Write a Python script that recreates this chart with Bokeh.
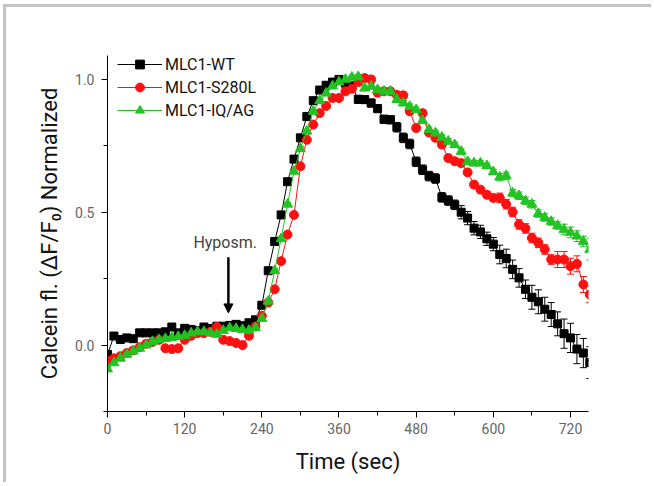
from bokeh.plotting import figure
from bokeh.models import (ColumnDataSource, FixedTicker, Whisker, TeeHead, Arrow,
                          NormalHead, Label, Range1d, NumeralTickFormatter)
from bokeh.embed import file_html
from bokeh.resources import INLINE

# ---------------- data ----------------
time_s = [0, 10, 20, 30, 40, 50, 60, 70, 80, 90, 100, 110, 120, 130, 140, 150, 160, 170, 180, 190,
          200, 210, 220, 230, 240, 250, 260, 270, 280, 290, 300, 310, 320, 330, 340, 350, 360, 370, 380, 390,
          400, 410, 420, 430, 440, 450, 460, 470, 480, 490, 500, 510, 520, 530, 540, 550, 560, 570, 580, 590,
          600, 610, 620, 630, 640, 650, 660, 670, 680, 690, 700, 710, 720, 730, 740, 750]

wt = [-0.035, 0.034, 0.021, 0.027, 0.024, 0.046, 0.046, 0.046, 0.046, 0.050,
      0.068, 0.046, 0.063, 0.059, 0.055, 0.068, 0.062, 0.071, 0.071, 0.074,
      0.078, 0.073, 0.084, 0.095, 0.150, 0.280, 0.390, 0.490, 0.615, 0.700,
      0.780, 0.860, 0.920, 0.960, 0.978, 0.990, 1.000, 0.986, 0.975, 0.925,
      0.924, 0.911, 0.890, 0.850, 0.848, 0.820, 0.780, 0.757, 0.690, 0.660,
      0.636, 0.627, 0.556, 0.544, 0.528, 0.500, 0.478, 0.440, 0.426, 0.400,
      0.380, 0.341, 0.326, 0.285, 0.253, 0.210, 0.180, 0.163, 0.135, 0.115,
      0.080, 0.043, 0.027, -0.015, -0.030, -0.066]
wt_err = [0.008, 0.008, 0.008, 0.008, 0.008, 0.008, 0.008, 0.008, 0.008, 0.008,
          0.008, 0.008, 0.008, 0.008, 0.008, 0.008, 0.008, 0.008, 0.008, 0.008,
          0.008, 0.008, 0.008, 0.008, 0.010, 0.010, 0.010, 0.010, 0.010, 0.010,
          0.010, 0.010, 0.010, 0.010, 0.010, 0.010, 0.010, 0.010, 0.015, 0.015,
          0.015, 0.015, 0.015, 0.015, 0.015, 0.018, 0.018, 0.018, 0.018, 0.018,
          0.018, 0.018, 0.018, 0.018, 0.018, 0.025, 0.025, 0.025, 0.025, 0.025,
          0.025, 0.035, 0.035, 0.035, 0.035, 0.035, 0.045, 0.045, 0.045, 0.045,
          0.045, 0.055, 0.055, 0.055, 0.055, 0.060]

s280l = [-0.060, -0.050, -0.042, -0.030, -0.020, -0.008, 0.005, 0.012, 0.020, -0.012,
         -0.015, -0.012, 0.020, 0.035, 0.045, 0.045, 0.050, 0.068, 0.020, 0.015,
         0.008, 0.000, 0.035, 0.070, 0.110, 0.160, 0.210, 0.316, 0.416, 0.490,
         0.673, 0.773, 0.830, 0.873, 0.900, 0.930, 0.930, 0.955, 0.965, 0.990,
         1.005, 1.000, 0.950, 0.955, 0.955, 0.942, 0.940, 0.880, 0.817, 0.873,
         0.800, 0.780, 0.755, 0.704, 0.692, 0.685, 0.650, 0.604, 0.585, 0.566,
         0.554, 0.554, 0.530, 0.501, 0.454, 0.439, 0.403, 0.385, 0.360, 0.322,
         0.322, 0.322, 0.297, 0.306, 0.228, 0.190]
s280l_err = [0.006, 0.006, 0.006, 0.006, 0.006, 0.006, 0.006, 0.006, 0.006, 0.006,
             0.006, 0.006, 0.006, 0.006, 0.006, 0.006, 0.006, 0.006, 0.006, 0.006,
             0.006, 0.006, 0.006, 0.006, 0.008, 0.008, 0.008, 0.008, 0.008, 0.008,
             0.008, 0.008, 0.008, 0.008, 0.008, 0.008, 0.008, 0.008, 0.012, 0.012,
             0.012, 0.012, 0.012, 0.012, 0.012, 0.012, 0.012, 0.012, 0.012, 0.012,
             0.012, 0.012, 0.012, 0.012, 0.012, 0.012, 0.012, 0.012, 0.012, 0.012,
             0.012, 0.018, 0.018, 0.018, 0.018, 0.018, 0.018, 0.018, 0.018, 0.018,
             0.030, 0.030, 0.030, 0.030, 0.030, 0.030]

iqag = [-0.090, -0.067, -0.050, -0.035, -0.023, -0.012, 0.000, 0.013, 0.020, 0.024,
        0.028, 0.032, 0.036, 0.045, 0.050, 0.050, 0.046, 0.040, 0.055, 0.065,
        0.062, 0.058, 0.055, 0.065, 0.100, 0.165, 0.280, 0.400, 0.530, 0.654,
        0.739, 0.805, 0.880, 0.920, 0.948, 0.975, 0.990, 1.000, 1.008, 1.010,
        0.967, 0.974, 0.961, 0.955, 0.955, 0.924, 0.911, 0.898, 0.886, 0.845,
        0.811, 0.798, 0.782, 0.767, 0.754, 0.729, 0.690, 0.685, 0.685, 0.675,
        0.652, 0.632, 0.637, 0.572, 0.562, 0.543, 0.530, 0.495, 0.480, 0.465,
        0.450, 0.435, 0.424, 0.410, 0.390, 0.360]
iqag_err = [0.006, 0.006, 0.006, 0.006, 0.006, 0.006, 0.006, 0.006, 0.006, 0.006,
            0.006, 0.006, 0.006, 0.006, 0.006, 0.006, 0.006, 0.006, 0.006, 0.006,
            0.006, 0.006, 0.006, 0.006, 0.006, 0.008, 0.008, 0.008, 0.008, 0.008,
            0.008, 0.008, 0.008, 0.008, 0.008, 0.008, 0.008, 0.008, 0.008, 0.008,
            0.008, 0.010, 0.010, 0.010, 0.010, 0.010, 0.010, 0.010, 0.010, 0.010,
            0.010, 0.010, 0.010, 0.010, 0.010, 0.010, 0.010, 0.010, 0.010, 0.010,
            0.010, 0.014, 0.014, 0.014, 0.014, 0.014, 0.014, 0.014, 0.014, 0.014,
            0.014, 0.020, 0.020, 0.020, 0.020, 0.040]

series_names = ["MLC1-WT", "MLC1-S280L", "MLC1-IQ/AG"]
x_ticks = [0, 120, 240, 360, 480, 600, 720]
x_minor = [60, 180, 300, 420, 540, 660]
y_ticks = [0.0, 0.5, 1.0]
y_minor = [-0.25, 0.25, 0.75]

stim_label = "Hyposm."
stim_time = 188
stim_label_time = 183
stim_label_y = 0.387
stim_arrow_top = 0.331
stim_arrow_tip = 0.121

# ---------------- figure ----------------
p = figure(width=648, height=478, output_backend="svg", toolbar_location=None,
           x_range=Range1d(0, 748), y_range=Range1d(-0.25, 1.09),
           min_border_left=101, min_border_top=48, min_border_right=66, min_border_bottom=74,
           x_axis_label="Time (sec)", y_axis_label="Calcein fl. (\u0394F/F\u2080) Normalized")
p.styles = {"border-top": "3px solid #c4c4c4", "border-left": "3px solid #c4c4c4",
            "margin-left": "3px", "margin-top": "4px"}
p.xgrid.visible = False
p.ygrid.visible = False
p.outline_line_color = None

p.xaxis.ticker = FixedTicker(ticks=x_ticks, minor_ticks=x_minor)
p.yaxis.ticker = FixedTicker(ticks=y_ticks, minor_ticks=y_minor)
p.yaxis.formatter = NumeralTickFormatter(format="0.0")

for ax in (p.xaxis[0], p.yaxis[0]):
    ax.axis_line_color = "black"
    ax.major_tick_line_color = "black"
    ax.minor_tick_line_color = "black"
    ax.major_tick_in = 0
    ax.major_tick_out = 6
    ax.minor_tick_in = 0
    ax.minor_tick_out = 4
    ax.major_label_text_font = "Roboto"
    ax.major_label_text_font_size = "14px"
    ax.major_label_text_color = "#666666"
    ax.axis_label_text_font = "Roboto"
    ax.axis_label_text_font_size = "22px"
    ax.axis_label_text_font_style = "normal"
    ax.axis_label_text_color = "#111111"
p.xaxis.major_label_standoff = 5
p.yaxis.major_label_standoff = 7
p.xaxis.axis_label_standoff = 12
p.yaxis.axis_label_standoff = 10

colors = ["#000000", "#ff1010", "#22c322"]
markers = ["square", "circle", "triangle"]
sizes = [8, 9, 10]
values = [wt, s280l, iqag]
errors = [wt_err, s280l_err, iqag_err]

for name, col, mk, sz, v, e in zip(series_names, colors, markers, sizes, values, errors):
    src = ColumnDataSource(dict(t=time_s, y=v,
                                lo=[a - b for a, b in zip(v, e)],
                                hi=[a + b for a, b in zip(v, e)]))
    p.line("t", "y", source=src, line_color=col, line_width=1, legend_label=name)
    w = Whisker(source=src, base="t", upper="hi", lower="lo", line_color=col, line_width=1,
                upper_head=TeeHead(size=7, line_color=col, line_width=1),
                lower_head=TeeHead(size=7, line_color=col, line_width=1))
    p.add_layout(w)
    p.scatter("t", "y", source=src, marker=mk, size=sz, fill_color=col, line_color=col,
              legend_label=name)

p.add_layout(Arrow(end=NormalHead(size=9, fill_color="black", line_color="black"),
                   x_start=stim_time, y_start=stim_arrow_top,
                   x_end=stim_time, y_end=stim_arrow_tip,
                   line_width=2.5, line_color="black"))
p.add_layout(Label(x=stim_label_time, y=stim_label_y, text=stim_label,
                   text_align="center", text_baseline="middle",
                   text_font="Roboto", text_font_size="16px", text_color="#444444"))

leg = p.legend[0]
leg.location = (10, 290)
leg.border_line_color = None
leg.background_fill_alpha = 0
leg.padding = 0
leg.margin = 0
leg.spacing = 1
leg.glyph_width = 45
leg.glyph_height = 22
leg.label_height = 22
leg.label_standoff = 3
leg.label_text_font = "Roboto"
leg.label_text_font_size = "16px"
leg.label_text_color = "#111111"

open("out.html", "w").write(file_html(p, INLINE))
